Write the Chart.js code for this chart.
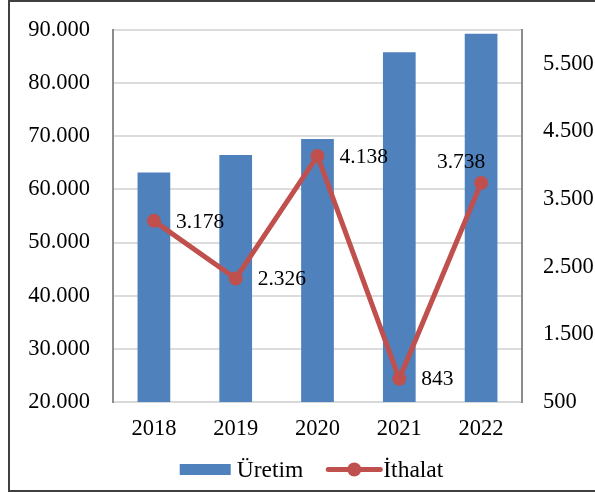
<!DOCTYPE html>
<html><head><meta charset="utf-8">
<script src="https://cdn.jsdelivr.net/npm/chart.js@4.4.0/dist/chart.umd.min.js"></script>
<style>
html,body{margin:0;padding:0;background:#fff;overflow:hidden;width:595px;height:492px;}
#frame{position:absolute;left:8px;top:0;width:700px;height:492px;box-sizing:border-box;border:2px solid #404040;}
#wrap{position:absolute;left:0;top:0;width:595px;height:492px;}
</style></head><body>
<div id="frame"></div>
<div id="wrap"><canvas id="c" width="595" height="492"></canvas></div>
<script>
const years = ['2018', '2019', '2020', '2021', '2022'];
const uretim = [63200, 66500, 69500, 85800, 89300];
const ithalat = [3178, 2326, 4138, 843, 3738];
const leftTicks = [20000, 30000, 40000, 50000, 60000, 70000, 80000, 90000];
const rightTicks = [500, 1500, 2500, 3500, 4500, 5500];
const seriesNames = ['Üretim', 'İthalat'];

const BLUE = '#4F81BD', RED = '#C0504D';
const FONT = '"Liberation Serif", "Times New Roman", serif';
const fmt = n => String(n).replace(/\B(?=(\d{3})+(?!\d))/g, '.');

const labelPlugin = {
  id: 'lineLabels',
  afterDatasetsDraw(chart) {
    const ctx = chart.ctx;
    const meta = chart.getDatasetMeta(1);
    ctx.save();
    ctx.font = '21.5px ' + FONT;
    ctx.fillStyle = '#000';
    meta.data.forEach((pt, i) => {
      const txt = fmt(ithalat[i]);
      if (i === ithalat.length - 1) {
        ctx.textAlign = 'center'; ctx.textBaseline = 'middle';
        ctx.fillText(txt, pt.x - 20, pt.y - 21);
      } else {
        ctx.textAlign = 'left'; ctx.textBaseline = 'middle';
        ctx.fillText(txt, pt.x + 22, pt.y + 1);
      }
    });
    ctx.restore();
  }
};

const legendPlugin = {
  id: 'customLegend',
  afterDraw(chart) {
    const ctx = chart.ctx;
    ctx.save();
    ctx.font = '23.5px ' + FONT;
    const w1 = ctx.measureText(seriesNames[0]).width;
    const w2 = ctx.measureText(seriesNames[1]).width;
    const total = 51 + 6 + w1 + 23 + 56 + 1 + w2;
    let x = 311.5 - total / 2;
    const cy = 469.5;
    ctx.fillStyle = BLUE;
    ctx.fillRect(x, cy - 5.5, 51, 11);
    x += 51 + 6;
    ctx.fillStyle = '#000';
    ctx.textAlign = 'left'; ctx.textBaseline = 'middle';
    ctx.fillText(seriesNames[0], x, cy + 1);
    x += w1 + 23;
    ctx.strokeStyle = RED; ctx.lineWidth = 5; ctx.lineCap = 'round';
    ctx.beginPath(); ctx.moveTo(x + 2, cy); ctx.lineTo(x + 54, cy); ctx.stroke();
    ctx.fillStyle = RED;
    ctx.beginPath(); ctx.arc(x + 28, cy, 7, 0, Math.PI * 2); ctx.fill();
    x += 56 + 1;
    ctx.fillStyle = '#000';
    ctx.fillText(seriesNames[1], x, cy + 1);
    ctx.restore();
  }
};

new Chart(document.getElementById('c'), {
  data: {
    labels: years,
    datasets: [
      { type: 'bar', label: seriesNames[0], data: uretim, backgroundColor: BLUE, yAxisID: 'y',
        barPercentage: 0.4, categoryPercentage: 1.0, order: 2 },
      { type: 'line', label: seriesNames[1], data: ithalat, yAxisID: 'y1', borderColor: RED,
        backgroundColor: RED, borderWidth: 5, pointRadius: 7, pointBorderWidth: 0,
        pointBackgroundColor: RED, tension: 0, order: 1 }
    ]
  },
  options: {
    responsive: false,
    animation: false,
    events: [],
    layout: { padding: { top: 30, left: 0, right: 0, bottom: 0 } },
    plugins: { legend: { display: false }, tooltip: { enabled: false } },
    scales: {
      x: {
        grid: { display: false },
        border: { display: true, color: '#d9d9d9', width: 2 },
        ticks: { color: '#000', font: { size: 22.5, family: FONT }, padding: 6 },
        afterFit(s) { s.height = 90; }
      },
      y: {
        position: 'left',
        min: 20000, max: 90000,
        afterBuildTicks(s) { s.ticks = leftTicks.map(v => ({ value: v })); },
        grid: { color: '#dcdcdc', lineWidth: 2, drawTicks: true, tickLength: 23, tickColor: 'rgba(0,0,0,0)' },
        border: { display: true, color: '#8c8c8c', width: 2 },
        ticks: { color: '#000', font: { size: 22.5, family: FONT }, padding: 0, callback: v => fmt(v) },
        afterFit(s) { s.width = 113; }
      },
      y1: {
        position: 'right',
        min: 500, max: 6000,
        afterBuildTicks(s) { s.ticks = rightTicks.map(v => ({ value: v })); },
        grid: { display: true, drawOnChartArea: false, drawTicks: true, tickLength: 21, tickColor: 'rgba(0,0,0,0)' },
        border: { display: true, color: '#8c8c8c', width: 2 },
        ticks: { color: '#000', font: { size: 22.5, family: FONT }, padding: 0, callback: v => fmt(v) },
        afterFit(s) { s.width = 73; }
      }
    }
  },
  plugins: [labelPlugin, legendPlugin]
});
</script>
</body></html>
